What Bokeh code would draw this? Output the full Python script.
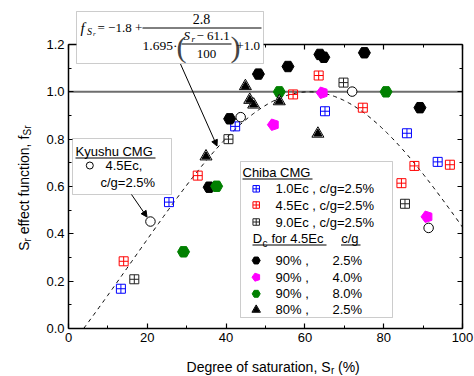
import numpy as np
from bokeh.plotting import figure
from bokeh.models import (Range1d, LinearAxis, FixedTicker, PrintfTickFormatter,
                          CustomJSTickFormatter, BoxAnnotation, Label, Arrow, NormalHead)
from bokeh.embed import file_html
from bokeh.resources import INLINE

# ---------------- data ----------------
chiba_10_x = [13.3, 25.5, 42.3, 65.1, 85.9, 93.7]
chiba_10_y = [0.168, 0.534, 0.854, 0.918, 0.825, 0.704]
chiba_45_x = [14.0, 32.8, 57.0, 63.5, 74.7, 84.5, 87.8, 96.8]
chiba_45_y = [0.284, 0.646, 0.989, 1.069, 0.933, 0.614, 0.687, 0.692]
chiba_90_x = [16.7, 40.6, 69.8, 85.4]
chiba_90_y = [0.208, 0.800, 1.039, 0.527]
dc90_cg25_x = [35.7, 40.9, 48.2, 55.7, 63.8, 64.8, 75.1, 89.2]
dc90_cg25_y = [0.597, 0.886, 1.075, 1.107, 1.158, 1.146, 1.165, 0.933]
dc90_cg40_x = [52.0, 64.4, 91.0]
dc90_cg40_y = [0.861, 0.996, 0.472]
dc90_cg80_x = [29.2, 37.6, 53.5, 80.6]
dc90_cg80_y = [0.324, 0.601, 1.0, 1.0]
dc80_cg25_x = [34.9, 44.9, 46.0, 47.0, 53.5, 63.3]
dc80_cg25_y = [0.727, 1.024, 0.966, 0.946, 0.960, 0.823]
kyushu_x = [20.8, 43.7, 72.0, 91.4]
kyushu_y = [0.452, 0.893, 1.001, 0.425]

# fitted function shown in the chart: f = A + B / (C*((Sr - S0)/100)^2 + D)
A, B, C, S0, D = -1.8, 2.8, 1.695, 61.1, 1.0
ref_level = 1.0
x_ticks = [0, 20, 40, 60, 80, 100]
x_minor = [10, 30, 50, 70, 90]
y_ticks = [0.0, 0.2, 0.4, 0.6, 0.8, 1.0, 1.2]
y_minor = [0.1, 0.3, 0.5, 0.7, 0.9, 1.1]
X_MIN, X_MAX = x_ticks[0], x_ticks[-1]
Y_MIN, Y_MAX = y_ticks[0], y_ticks[-1]

sr_start = S0 - 100 * np.sqrt((B / -A - D) / C)
sr = np.linspace(sr_start, X_MAX, 300)
fsr = A + B / (C * ((sr - S0) / 100.0) ** 2 + D)

# ---------------- figure ----------------
# plot box (pixels): x 68..462, y 44..328 inside a 474x376 canvas
FL, FR, FT, FB = 68, 462, 44, 328
W, H = 474, 376


def dx(px):
    return X_MIN + (px - FL) / (FR - FL) * (X_MAX - X_MIN)


def dy(py):
    return Y_MIN + (FB - py) / (FB - FT) * (Y_MAX - Y_MIN)


p = figure(width=W, height=H, x_range=Range1d(dx(0), dx(W)), y_range=Range1d(dy(H), dy(0)),
           output_backend="svg", toolbar_location=None, title=None,
           min_border_left=0, min_border_right=0, min_border_top=0, min_border_bottom=0)
p.outline_line_color = None
p.grid.visible = False
p.background_fill_color = "white"
p.border_fill_color = "white"

FONT = "Liberation Sans"


def style_axis(ax, labels=True):
    ax.axis_line_width = 1.5
    ax.axis_line_color = "black"
    ax.major_tick_in = 5
    ax.major_tick_out = 0
    ax.minor_tick_in = 3
    ax.minor_tick_out = 0
    ax.major_tick_line_width = 1.2
    ax.minor_tick_line_width = 1
    ax.major_tick_line_color = "black"
    ax.minor_tick_line_color = "black"
    if labels:
        ax.major_label_text_font = FONT
        ax.major_label_text_font_size = "13px"
        ax.major_label_text_color = "black"
        ax.major_label_standoff = 4
    else:
        ax.formatter = CustomJSTickFormatter(code="return ''")
        ax.major_label_text_font_size = "0px"
        ax.major_label_standoff = 0


xa = p.xaxis[0]
ya = p.yaxis[0]
xa.ticker = FixedTicker(ticks=x_ticks, minor_ticks=x_minor)
ya.ticker = FixedTicker(ticks=y_ticks, minor_ticks=y_minor)
ya.formatter = PrintfTickFormatter(format="%.1f")
xa.fixed_location = Y_MIN
ya.fixed_location = X_MIN
xa.bounds = (X_MIN, X_MAX)
ya.bounds = (Y_MIN, Y_MAX)
style_axis(xa)
style_axis(ya)
top = LinearAxis(ticker=FixedTicker(ticks=x_ticks, minor_ticks=x_minor), fixed_location=Y_MAX,
                 bounds=(X_MIN, X_MAX))
right = LinearAxis(ticker=FixedTicker(ticks=y_ticks, minor_ticks=y_minor), fixed_location=X_MAX,
                   bounds=(Y_MIN, Y_MAX))
style_axis(top, False)
style_axis(right, False)
p.add_layout(top, "above")
p.add_layout(right, "right")

# reference line f = 1.0 across the plot
p.line([X_MIN, X_MAX], [ref_level, ref_level], line_color="#6e6e6e", line_width=2)

# curve
p.line(sr, fsr, line_color="black", line_width=1, line_dash="4 4")

# data markers
p.scatter(chiba_10_x, chiba_10_y, marker="square_cross", size=9, line_color="#0000ff", fill_color=None, line_width=1)
p.scatter(chiba_45_x, chiba_45_y, marker="square_cross", size=9, line_color="#ff0000", fill_color=None, line_width=1)
p.scatter(chiba_90_x, chiba_90_y, marker="square_cross", size=9, line_color="#222222", fill_color=None, line_width=1)
p.scatter(dc90_cg25_x, dc90_cg25_y, marker="hex", size=12, fill_color="black", line_color="black")
p.scatter(dc90_cg80_x, dc90_cg80_y, marker="hex", size=12, fill_color="#008000", line_color="#008000")
p.ngon(x=dc90_cg40_x, y=dc90_cg40_y, radius=6, radius_units="screen", n=5, angle=np.pi / 2,
       fill_color="#ff00ff", line_color="#ff00ff")
p.scatter(dc80_cg25_x, dc80_cg25_y, marker="triangle", size=12, fill_color="white", line_color="black", line_width=1)
p.scatter(dc80_cg25_x, dc80_cg25_y, marker="triangle", size=8, fill_color="black", line_color="black")
p.scatter(kyushu_x, kyushu_y, marker="circle", size=9.5, fill_color="white", line_color="black", line_width=1)


# ---------------- annotation helpers (positions in canvas pixels) ----------------
def lab(px, py, text, size="13px", font=FONT, style="normal", align="left", baseline="middle", angle=0.0,
        color="black"):
    p.add_layout(Label(x=dx(px), y=dy(py), text=text, text_font=font, text_font_size=size,
                       text_font_style=style, text_align=align, text_baseline=baseline, angle=angle,
                       text_color=color, level="overlay"))


def seg(px0, py0, px1, py1, w=1.0, color="black"):
    p.add_layout(Arrow(x_start=dx(px0), y_start=dy(py0), x_end=dx(px1), y_end=dy(py1), end=None,
                       line_width=w, line_color=color, level="overlay"))


def box(l, t, r, b):
    p.add_layout(BoxAnnotation(left=dx(l), right=dx(r), top=dy(t), bottom=dy(b), fill_color="white",
                               fill_alpha=1.0, line_color="#555555", line_width=1, level="annotation"))


# axis titles
lab(330, 366, "Degree of saturation, S", size="14px", align="right")
lab(330.5, 370, "r", size="10px")
lab(337.5, 366, "(%)", size="14px")
AY = np.pi / 2
lab(23, 241, "S", size="14px", align="right", angle=AY)
lab(27, 241, "r", size="10px", angle=AY)
lab(23, 233.8, "effect function, f", size="14px", angle=AY)
lab(27, 135, "Sr", size="10px", angle=AY)

# formula box
box(76, 11, 263, 63)
SERIF = "Liberation Serif"
lab(80, 27, "f", size="15px", font=SERIF, style="italic")
lab(86.5, 31, "S", size="10px", font=SERIF, style="italic")
lab(92.5, 33.5, "r", size="7px", font=SERIF, style="italic")
lab(97, 27, "= \u22121.8 +", size="13px", font=SERIF)
seg(142, 27.5, 261, 27.5)
lab(201, 18.5, "2.8", size="14px", font=SERIF, align="center")
lab(142, 45, "1.695\u00b7", size="13.5px", font=SERIF)
lab(176, 46, "(", size="30px", font=SERIF, color="#444444")
lab(183, 35, "S", size="13px", font=SERIF, style="italic")
lab(191, 38.5, "r", size="9px", font=SERIF, style="italic")
lab(196, 35, "\u2212 61.1", size="13px", font=SERIF)
seg(181, 43.5, 231, 43.5)
lab(206, 53.5, "100", size="13px", font=SERIF, align="center")
lab(230, 46, ")", size="30px", font=SERIF, color="#444444")
lab(236, 45, "+1.0", size="13px", font=SERIF)
p.add_layout(Arrow(x_start=dx(180), y_start=dy(63.5), x_end=dx(216.5), y_end=dy(145.5), line_width=1,
                   end=NormalHead(size=6, fill_color="black", line_color="black"), level="overlay"))

# Kyushu box
box(72, 138, 171, 194)
lab(75, 150.7, "Kyushu CMG")
seg(75, 157.5, 155, 157.5)
p.scatter([dx(89.3)], [dy(165)], marker="circle", size=7, fill_color="white", line_color="black", level="overlay")
lab(105, 165, "4.5Ec,")
lab(100, 182, "c/g=2.5%")
p.add_layout(Arrow(x_start=dx(131), y_start=dy(194), x_end=dx(146.5), y_end=dy(216.5), line_width=1,
                   end=NormalHead(size=6, fill_color="black", line_color="black"), level="overlay"))

# Chiba legend
box(240, 161, 392, 317)
lab(242, 171.5, "Chiba CMG")
seg(242, 178.5, 312, 178.5)
MX = 255.7
rows = [(188.3, "#0000ff", "1.0Ec , c/g=2.5%"), (204.5, "#ff0000", "4.5Ec , c/g=2.5%"),
        (221.5, "#222222", "9.0Ec , c/g=2.5%")]
for ry, col, txt in rows:
    p.scatter([dx(MX)], [dy(ry)], marker="square_cross", size=6.5, line_color=col, fill_color=None,
              level="overlay")
    lab(275, ry, txt)
lab(252.3, 238.3, "D")
lab(262, 242.5, "c", size="10px")
lab(271, 238.3, "for 4.5Ec")
seg(252, 244.5, 326, 244.5)
lab(340.7, 238.3, "c/g")
seg(340.5, 244.5, 360, 244.5)
lab(275, 260, "90% ,")
lab(332, 260, "2.5%")
p.scatter([dx(MX)], [dy(260)], marker="hex", size=8, fill_color="black", line_color="black", level="overlay")
lab(275, 276.7, "90% ,")
lab(332, 276.7, "4.0%")
p.ngon(x=[dx(MX)], y=[dy(276.7)], radius=4.2, radius_units="screen", n=5, angle=np.pi / 2,
       fill_color="#ff00ff", line_color="#ff00ff", level="overlay")
lab(275, 293.3, "90% ,")
lab(332, 293.3, "8.0%")
p.scatter([dx(MX)], [dy(293.3)], marker="hex", size=8, fill_color="#008000", line_color="#008000", level="overlay")
lab(275, 309.3, "80% ,")
lab(332, 309.3, "2.5%")
p.scatter([dx(MX)], [dy(309.3)], marker="triangle", size=8.5, fill_color="#888888", line_color="black",
          level="overlay")
p.scatter([dx(MX)], [dy(309.3)], marker="triangle", size=5.5, fill_color="black", line_color="black",
          level="overlay")

open("out.html", "w").write(file_html(p, INLINE))
